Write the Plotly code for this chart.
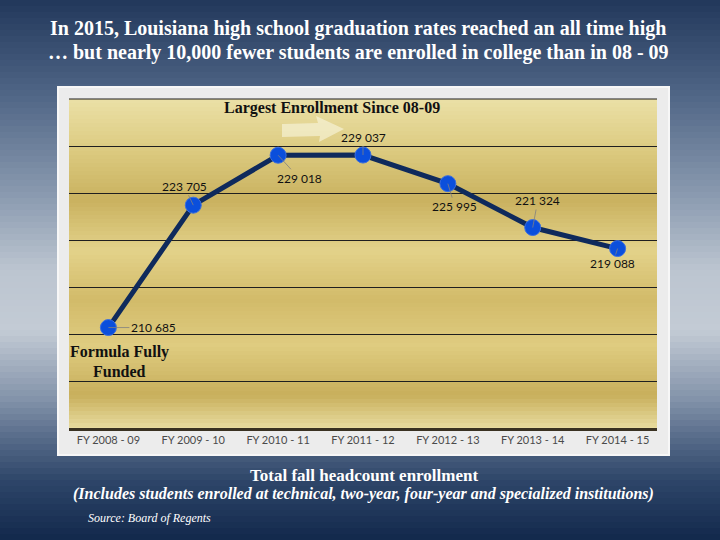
import plotly.graph_objects as go

# ---- data ----
years = ["FY 2008 - 09", "FY 2009 - 10", "FY 2010 - 11", "FY 2011 - 12",
         "FY 2012 - 13", "FY 2013 - 14", "FY 2014 - 15"]
enrollment = [210685, 223705, 229018, 229037, 225995, 221324, 219088]
label_text = ["210 685", "223 705", "229 018", "229 037", "225 995", "221 324", "219 088"]
label_dx = [45, -9, 21, 0, 7, 5, -5]
label_dy = [0, -19, 23, -18, 23, -27, 15]

W, H = 720, 540
L, R, T, B = 69, 657, 99, 428  # plot area in pixels


def px(x):
    return (x - L) / (R - L)


def py(y):
    return (B - y) / (B - T)


def hex2rgb(h):
    h = h.lstrip("#")
    return [int(h[i:i + 2], 16) for i in (0, 2, 4)]


def interp(stops, y):
    for (y0, c0), (y1, c1) in zip(stops, stops[1:]):
        if y0 <= y <= y1:
            t = (y - y0) / (y1 - y0) if y1 > y0 else 0
            a, b = hex2rgb(c0), hex2rgb(c1)
            return "rgb(%d,%d,%d)" % tuple(round(a[i] + (b[i] - a[i]) * t) for i in range(3))
    return stops[-1][1]


shapes = []
# page background gradient
bg_stops = [(0, "#22385b"), (90, "#4d6384"), (200, "#8d9db2"), (270, "#bcc5d0"),
            (330, "#c3cbd5"), (400, "#8292a9"), (435, "#5a6e8c"), (480, "#2e4669"),
            (540, "#12284c")]
step = 6
for y in range(0, H, step):
    shapes.append(dict(type="rect", xref="paper", yref="paper", layer="below",
                       x0=px(-2), x1=px(W + 2), y0=py(y + step + 0.5), y1=py(y),
                       fillcolor=interp(bg_stops, y + step / 2), line_width=0))
# light panel
shapes.append(dict(type="rect", xref="paper", yref="paper", layer="below",
                   x0=px(58), x1=px(669), y0=py(455), y1=py(87),
                   fillcolor="#ececec", line=dict(color="#f7f7f7", width=2)))
# gold plot area gradient
gold_stops = [(99, "#ebe0a6"), (150, "#dccb80"), (200, "#c9b15f"), (250, "#e3d28a"),
              (300, "#d2bb69"), (345, "#dfcc80"), (395, "#c8af5c"), (428, "#e8dc9f")]
gstep = 4
for y in range(T, B, gstep):
    y1 = min(y + gstep + 0.5, B)
    shapes.append(dict(type="rect", xref="paper", yref="paper", layer="below",
                       x0=0, x1=1, y0=py(y1), y1=py(y),
                       fillcolor=interp(gold_stops, y + gstep / 2), line_width=0))
# top border line of the plot area
shapes.append(dict(type="line", xref="paper", yref="paper", layer="below",
                   x0=0, x1=1, y0=1, y1=1, line=dict(color="#1f1f1f", width=1)))

# pale arrow
arrow_pts = [(282, 124), (318, 123), (316, 116), (344, 129), (319, 142), (320, 136), (282, 137)]
path = "M " + " L ".join("%.4f,%.4f" % (px(x), py(y)) for x, y in arrow_pts) + " Z"
shapes.append(dict(type="path", xref="paper", yref="paper", layer="above", path=path,
                   fillcolor="rgba(252,249,232,0.55)", line_width=0))

fig = go.Figure()
fig.add_trace(go.Scatter(
    x=years, y=enrollment, mode="lines+markers",
    line=dict(color="#0f2a5c", width=5),
    marker=dict(size=16, color="#0b4fdc", line=dict(color="#3b6fe0", width=1)),
    hoverinfo="skip", showlegend=False,
))

annotations = []
for xv, yv, txt_, dx, dy in zip(years, enrollment, label_text, label_dx, label_dy):
    annotations.append(dict(x=xv, y=yv, xref="x", yref="y", text=txt_,
                            ax=dx, ay=dy, showarrow=True, arrowhead=0, arrowwidth=0.8,
                            arrowcolor="#808080", standoff=0,
                            font=dict(family="Lato, Calibri, sans-serif", size=12, color="#111111")))

serif = "Liberation Serif, Times New Roman, serif"


def txt(x, y, s, size, color="white", bold=True, italic=False, xanchor="center"):
    if bold:
        s = "<b>" + s + "</b>"
    if italic:
        s = "<i>" + s + "</i>"
    annotations.append(dict(x=px(x), y=py(y), xref="paper", yref="paper", text=s,
                            showarrow=False, xanchor=xanchor, yanchor="middle",
                            font=dict(family=serif, size=size, color=color)))


txt(358, 28, "In 2015, Louisiana high school graduation rates reached an all time high", 20)
txt(358, 52, "… but nearly 10,000 fewer students are enrolled in college than in 08 - 09", 20)
txt(332, 108, "Largest Enrollment Since 08-09", 16, color="#111111")
txt(119, 352, "Formula Fully", 16, color="#111111")
txt(119, 371, "Funded", 16, color="#111111")
txt(364, 475, "Total fall headcount enrollment", 17)
txt(364, 494, "(Includes students enrolled at technical, two-year, four-year and specialized institutions)", 16, italic=True)
txt(86, 518, "Source: Board of Regents", 12, bold=False, italic=True, xanchor="left")

fig.update_layout(
    width=W, height=H,
    margin=dict(l=L, r=W - R, t=T, b=H - B),
    paper_bgcolor="#2e4669",
    plot_bgcolor="rgba(0,0,0,0)",
    shapes=shapes,
    annotations=annotations,
    xaxis=dict(showgrid=False, showline=True, linecolor="#3a3222", linewidth=3,
               ticks="", tickfont=dict(family="Lato, Calibri, sans-serif", size=11, color="#4a4a4a"),
               fixedrange=True, zeroline=False),
    yaxis=dict(range=[200000, 235000], dtick=5000, tick0=200000, showticklabels=False,
               showgrid=True, gridcolor="#1f1f1f", gridwidth=1, zeroline=False,
               fixedrange=True),
    showlegend=False,
)

fig.write_html("out.html", config={"displayModeBar": False},
               post_script="document.body.style.margin='0';")
